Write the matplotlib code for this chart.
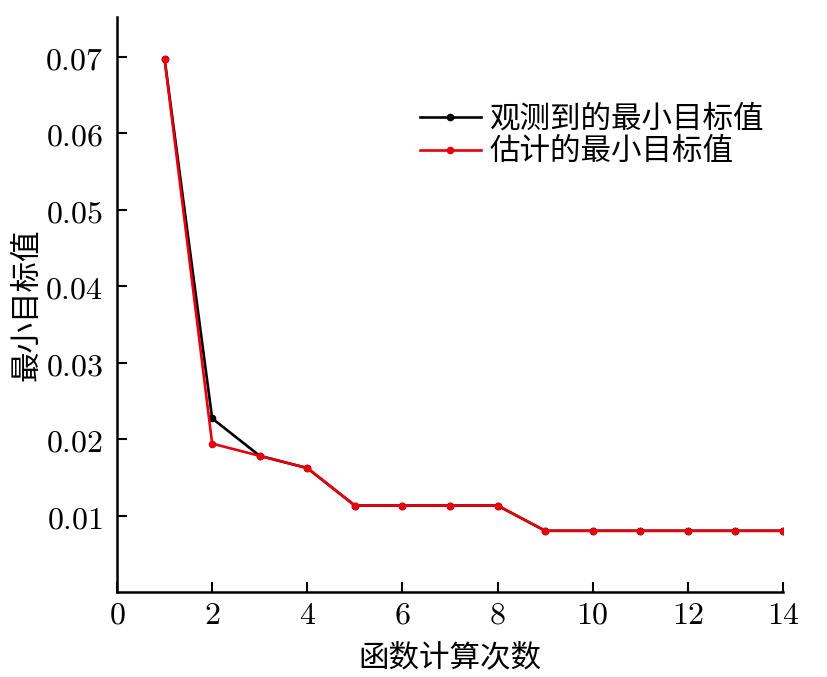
import numpy as np
import matplotlib
matplotlib.use('Agg')
import matplotlib.pyplot as plt

plt.rcParams['font.family'] = ['Noto Sans CJK SC', 'DejaVu Sans']
plt.rcParams['mathtext.fontset'] = 'cm'

# 函数计算次数
calls = [1, 2, 3, 4, 5, 6, 7, 8, 9, 10, 11, 12, 13, 14]
# 观测到的最小目标值
observed = [0.0697, 0.0227, 0.0178, 0.0162, 0.0113, 0.0113, 0.0113, 0.0113,
            0.0080, 0.0080, 0.0080, 0.0080, 0.0080, 0.0080]
# 估计的最小目标值
estimated = [0.0697, 0.0194, 0.0178, 0.0162, 0.0113, 0.0113, 0.0113, 0.0113,
             0.0080, 0.0080, 0.0080, 0.0080, 0.0080, 0.0080]

xticks = [0, 2, 4, 6, 8, 10, 12, 14]
yticks = [0.01, 0.02, 0.03, 0.04, 0.05, 0.06, 0.07]

fig = plt.figure(figsize=(8.27, 6.77), dpi=100)
ax = fig.add_axes([0.1415, 0.1256, 0.8053, 0.8494])

ax.plot(calls, observed, color='black', linewidth=1.9, marker='o', markersize=4.5,
        label='观测到的最小目标值')
ax.plot(calls, estimated, color='#e8000b', linewidth=1.9, marker='o', markersize=4.5,
        label='估计的最小目标值')

ax.set_xlim(0, 14)
ax.set_ylim(0, 0.0752)
ax.set_xticks(xticks)
ax.set_xticklabels(['$%d$' % t for t in xticks], fontsize=23)
ax.set_yticks(yticks)
ax.set_yticklabels(['$%.2f$' % t for t in yticks], fontsize=23)
ax.tick_params(direction='in', length=7, width=1.5)
ax.tick_params(axis='x', pad=5)
ax.tick_params(axis='y', pad=10)

for s in ['top', 'right']:
    ax.spines[s].set_visible(False)
for s in ['left', 'bottom']:
    ax.spines[s].set_linewidth(1.8)

ax.set_xlabel('函数计算次数', fontsize=22, labelpad=8)
ax.set_ylabel('最小目标值', fontsize=22, labelpad=2)

ax.legend(loc='upper left', bbox_to_anchor=(0.436, 0.87), frameon=False,
          fontsize=22, handlelength=2.0, handletextpad=0.3, labelspacing=0.05,
          borderaxespad=0)

fig.savefig('out.png', dpi=100)
